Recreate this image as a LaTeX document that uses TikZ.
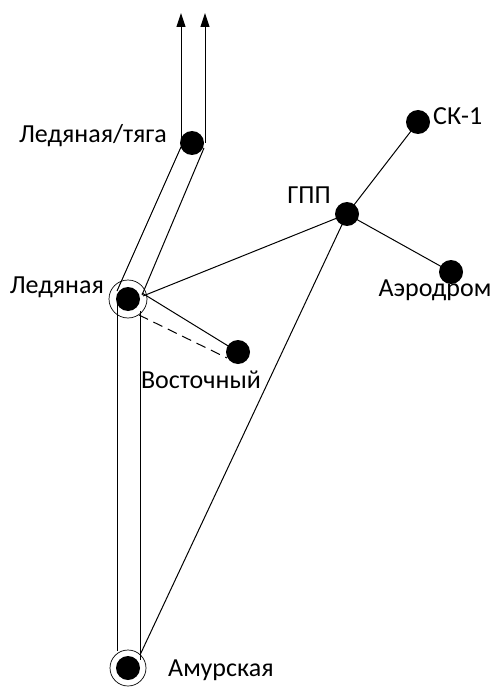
\documentclass[tikz,border=0pt]{standalone}
\usepackage{fontspec}
\setmainfont{Carlito}
\usetikzlibrary{calc,arrows.meta}
\begin{document}
\begin{tikzpicture}[x=1pt,y=-1pt,
  dot/.style={circle,fill=black,inner sep=0pt,minimum size=24pt},
  ring/.style={draw=black,line width=0.7pt},
  wire/.style={draw=black,line width=1pt},
  lbl/.style={inner sep=0pt,font=\fontsize{26}{30}\selectfont},
  up/.style={wire,-{Triangle[length=14pt,width=9pt]}}]
\useasboundingbox (0,0) rectangle (492,687);
% node positions
\coordinate (t) at (192,143);
\coordinate (l) at (128,299);
\coordinate (v) at (238,352);
\coordinate (g) at (347,214);
\coordinate (s) at (418,122);
\coordinate (a) at (451,272);
\coordinate (am) at (128,668);
\coordinate (tt1) at (181,13);
\coordinate (tt2) at (205,13);
% arrows upward
\draw[up] ($(t)+(-11,0)$) -- (tt1);
\draw[up] ($(t)+(13,0)$) -- (tt2);
% band tyaga - Ledyanaya
\draw[wire] ($(t)+(-11,4)$) -- ($(l)+(-11,-8)$);
\draw[wire] ($(t)+(12,5)$) -- ($(l)+(14,-4)$);
% band Ledyanaya - Amurskaya
\draw[wire] ($(l)+(-11,0)$) -- ($(am)+(-11,-17)$);
\draw[wire] ($(l)+(12,12)$) -- ($(am)+(12,-8)$);
% other lines
\draw[wire] ($(l)+(15,-3)$) -- (g);
\draw[wire] ($(l)+(14,-6)$) -- (v);
\draw[wire,dash pattern=on 10pt off 6pt] ($(l)+(11,16)$) -- ($(v)+(-11,6)$);
\draw[wire] (g) -- ($(am)+(12,-13)$);
\draw[wire] (g) -- (s);
\draw[wire] (g) -- (a);
% dots
\node[dot] (nt) at (t) {};
\node[dot] (nl) at (l) {};
\node[dot] (nv) at (v) {};
\node[dot] (ng) at (g) {};
\node[dot] (ns) at (s) {};
\node[dot] (na) at (a) {};
\node[dot] (nam) at (am) {};
\draw[ring] (l) circle (19);
\draw[ring] (am) circle (18);
% labels
\node[lbl,anchor=east] (Lt) at (167,136) {Ледяная/тяга};
\node[lbl] (Lg) at (309,195) {ГПП};
\node[lbl,anchor=west] (Ls) at (433,116) {СК-1};
\node[lbl] (La) at (435,290) {Аэродром};
\node[lbl,anchor=east] (Ll) at (104,287) {Ледяная};
\node[lbl] (Lv) at (201,380) {Восточный};
\node[lbl,anchor=west] (Lam) at (168,670) {Амурская};
\end{tikzpicture}
\end{document}
